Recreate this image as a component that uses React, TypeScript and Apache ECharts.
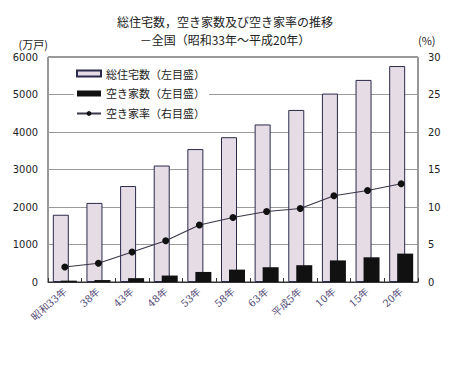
import React, { useEffect, useRef } from "react";
import * as echarts from "echarts";

const categories = ["昭和33年", "38年", "43年", "48年", "53年", "58年", "63年", "平成5年", "10年", "15年", "20年"];
const totalHouses = [1793, 2109, 2559, 3106, 3545, 3861, 4201, 4588, 5025, 5389, 5759];
const vacantHouses = [36, 52, 103, 172, 268, 330, 394, 448, 576, 659, 757];
const vacancyRate = [2.0, 2.5, 4.0, 5.5, 7.6, 8.6, 9.4, 9.8, 11.5, 12.2, 13.1];

const JP = "'Noto Sans CJK JP', 'Noto Sans', sans-serif";
const NUM = "'Liberation Sans Narrow', 'DejaVu Sans Condensed', sans-serif";

export default function App() {
  const ref = useRef<HTMLDivElement>(null);
  useEffect(() => {
    document.body.style.margin = "0";
    if (!ref.current) return;
    const chart = echarts.init(ref.current, undefined, { renderer: "svg" });
    chart.setOption({
      animation: false,
      backgroundColor: "#fff",
      title: {
        text: "総住宅数，空き家数及び空き家率の推移\n－全国（昭和33年～平成20年）",
        left: "center",
        top: 7,
        textStyle: { fontFamily: JP, fontSize: 12, fontWeight: "normal", color: "#222", lineHeight: 18 },
      },
      legend: {
        orient: "vertical",
        left: 74,
        top: 66,
        itemWidth: 24,
        itemHeight: 6,
        itemGap: 9,
        backgroundColor: "#fff",
        padding: [2, 4, 2, 2],
        textStyle: { fontFamily: JP, fontSize: 11, color: "#222" },
        data: [
          { name: "総住宅数（左目盛）", icon: "rect" },
          { name: "空き家数（左目盛）", icon: "rect" },
          { name: "空き家率（右目盛）" },
        ],
      },
      grid: {
        left: 48,
        right: 32,
        top: 57,
        bottom: 107,
        show: true,
        borderColor: "#333",
        borderWidth: 1,
        backgroundColor: "transparent",
      },
      xAxis: {
        type: "category",
        data: categories,
        axisLine: { lineStyle: { color: "#333" } },
        axisTick: { show: true, inside: true, length: 4, lineStyle: { color: "#333" } },
        axisLabel: {
          rotate: 42,
          fontFamily: "'DejaVu Serif', serif",
          fontSize: 10,
          color: "#4b4170",
          margin: 8,
        },
      },
      yAxis: [
        {
          type: "value",
          min: 0,
          max: 6000,
          interval: 1000,
          name: "(万戸)",
          nameLocation: "end",
          nameGap: 8,
          nameTextStyle: { fontFamily: JP, fontSize: 11, color: "#222", align: "right" },
          axisLine: { show: false },
          axisTick: { show: false },
          splitLine: { lineStyle: { color: "#9a9a9a" } },
          axisLabel: { fontFamily: NUM, fontSize: 11, color: "#222", margin: 10, formatter: (v: number) => String(v) },
        },
        {
          type: "value",
          min: 0,
          max: 30,
          interval: 5,
          name: "(%)",
          nameLocation: "end",
          nameGap: 12,
          nameTextStyle: { fontFamily: JP, fontSize: 11, color: "#222", align: "left" },
          axisLine: { show: false },
          axisTick: { show: false },
          splitLine: { show: false },
          axisLabel: { fontFamily: NUM, fontSize: 11, color: "#222", margin: 10, formatter: (v: number) => String(v) },
        },
      ],
      series: [
        {
          name: "総住宅数（左目盛）",
          type: "bar",
          data: totalHouses,
          barWidth: 16,
          barGap: "-50%",
          itemStyle: { color: "#e6dce6", borderColor: "#2a2a4a", borderWidth: 1 },
        },
        {
          name: "空き家数（左目盛）",
          type: "bar",
          data: vacantHouses,
          barWidth: 16,
          itemStyle: { color: "#111" },
        },
        {
          name: "空き家率（右目盛）",
          type: "line",
          yAxisIndex: 1,
          data: vacancyRate,
          symbol: "circle",
          symbolSize: 7,
          lineStyle: { color: "#3a3548", width: 1.2 },
          itemStyle: { color: "#111" },
          z: 5,
        },
      ],
    });
    return () => chart.dispose();
  }, []);
  return <div ref={ref} style={{ width: 450, height: 389 }} />;
}
